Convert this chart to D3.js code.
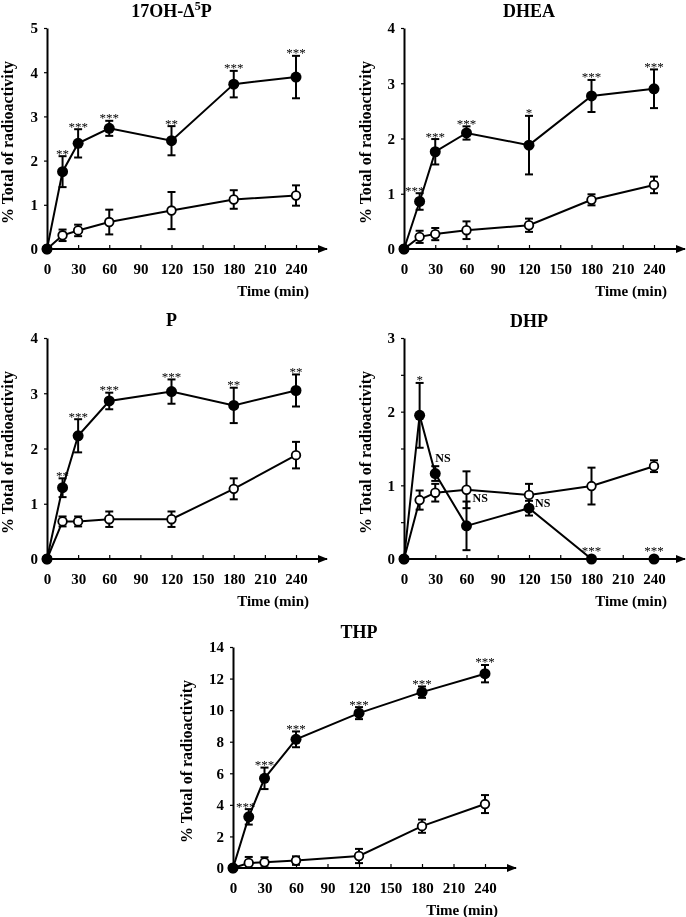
<!DOCTYPE html>
<html>
<head>
<meta charset="utf-8">
<script src="https://cdn.jsdelivr.net/npm/d3@7"></script>
<style>
  html, body { margin: 0; padding: 0; background: #fff; }
  svg { display: block; filter: grayscale(100%); }
  text { font-family: "Liberation Serif", "Times New Roman", serif; fill: #000; }
</style>
</head>
<body>
<svg id="chart" width="686" height="917"></svg>
<script>
// ---------- DATA ----------
const times = [0, 15, 30, 60, 120, 180, 240];
const xTicks = [0, 30, 60, 90, 120, 150, 180, 210, 240];

// 17OH-Δ5P
const oh17Filled    = [0, 1.75, 2.39, 2.73, 2.45, 3.73, 3.89];
const oh17FilledErr = [0, 0.35, 0.32, 0.17, 0.33, 0.30, 0.48];
const oh17Open      = [0, 0.31, 0.42, 0.61, 0.87, 1.12, 1.21];
const oh17OpenErr   = [0, 0.13, 0.13, 0.28, 0.42, 0.21, 0.23];
const oh17Sig       = ["", "**", "***", "***", "**", "***", "***"];

// DHEA
const dheaFilled    = [0, 0.86, 1.76, 2.10, 1.88, 2.77, 2.90];
const dheaFilledErr = [0, 0.15, 0.23, 0.12, 0.53, 0.29, 0.35];
const dheaOpen      = [0, 0.22, 0.27, 0.34, 0.43, 0.89, 1.16];
const dheaOpenErr   = [0, 0.11, 0.11, 0.16, 0.12, 0.10, 0.15];
const dheaSig       = ["", "***", "***", "***", "*", "***", "***"];

// P
const pFilled    = [0, 1.29, 2.23, 2.86, 3.03, 2.78, 3.05];
const pFilledErr = [0, 0.17, 0.30, 0.15, 0.22, 0.32, 0.29];
const pOpen      = [0, 0.68, 0.68, 0.72, 0.72, 1.27, 1.88];
const pOpenErr   = [0, 0.09, 0.09, 0.14, 0.14, 0.19, 0.24];
const pSig       = ["", "**", "***", "***", "***", "**", "**"];

// DHP
const dhpFilled    = [0, 1.95, 1.16, 0.45, 0.69, 0, 0];
const dhpFilledErr = [0, 0.44, 0.10, 0.33, 0.10, 0, 0];
const dhpOpen      = [0, 0.80, 0.90, 0.94, 0.87, 0.99, 1.26];
const dhpOpenErr   = [0, 0.13, 0.12, 0.25, 0.15, 0.25, 0.08];
const dhpSig       = ["", "*", "NS", "NS", "NS", "***", "***"];

// THP
const thpFilled    = [0, 3.24, 5.68, 8.15, 9.81, 11.14, 12.31];
const thpFilledErr = [0, 0.49, 0.68, 0.50, 0.38, 0.36, 0.55];
const thpOpen      = [0, 0.32, 0.36, 0.47, 0.76, 2.65, 4.05];
const thpOpenErr   = [0, 0.38, 0.32, 0.27, 0.45, 0.42, 0.57];
const thpSig       = ["", "***", "***", "***", "***", "***", "***"];

const yLabelText = "% Total of radioactivity";
const xLabelText = "Time (min)";

// ---------- LAYOUT ----------
const panels = [
  { title: ["17OH-\u0394", "5", "P"], filled: oh17Filled, filledErr: oh17FilledErr, open: oh17Open, openErr: oh17OpenErr, sig: oh17Sig,
    yMax: 5, tickStep: 1, left: 47, right: 296, top: 28, bottom: 249, titleY: 17, labOff: 34, firstDx: 0 },
  { title: ["DHEA"], filled: dheaFilled, filledErr: dheaFilledErr, open: dheaOpen, openErr: dheaOpenErr, sig: dheaSig,
    yMax: 4, tickStep: 1, left: 404, right: 654, top: 28, bottom: 249, titleY: 17, labOff: 33, firstDx: -5 },
  { title: ["P"], filled: pFilled, filledErr: pFilledErr, open: pOpen, openErr: pOpenErr, sig: pSig,
    yMax: 4, tickStep: 1, left: 47, right: 296, top: 338, bottom: 559, titleY: 326, labOff: 34, firstDx: 0 },
  { title: ["DHP"], filled: dhpFilled, filledErr: dhpFilledErr, open: dhpOpen, openErr: dhpOpenErr, sig: dhpSig,
    yMax: 3, tickStep: 0.5, left: 404, right: 654, top: 338, bottom: 559, titleY: 327, labOff: 33, firstDx: 0 },
  { title: ["THP"], filled: thpFilled, filledErr: thpFilledErr, open: thpOpen, openErr: thpOpenErr, sig: thpSig,
    yMax: 14, tickStep: 2, left: 233, right: 485, top: 647, bottom: 868, titleY: 638, labOff: 41, firstDx: -3 }
];

const svg = d3.select("#chart");
svg.append("rect").attr("width", 686).attr("height", 917).attr("fill", "#fff");

svg.append("defs").append("marker")
  .attr("id", "arrow").attr("viewBox", "0 0 10 8")
  .attr("refX", 9).attr("refY", 4)
  .attr("markerWidth", 10).attr("markerHeight", 8)
  .attr("markerUnits", "userSpaceOnUse").attr("orient", "auto")
  .append("path").attr("d", "M0,0 L10,4 L0,8 Z").attr("fill", "#000");

panels.forEach(p => {
  const g = svg.append("g");
  const x = d3.scaleLinear().domain([0, 240]).range([p.left, p.right]);
  const y = d3.scaleLinear().domain([0, p.yMax]).range([p.bottom, p.top]);

  // Title
  const t = g.append("text")
    .attr("x", (p.left + p.right) / 2).attr("y", p.titleY)
    .attr("text-anchor", "middle").attr("font-weight", "bold").attr("font-size", 18);
  if (p.title.length === 3) {
    t.append("tspan").text(p.title[0]);
    t.append("tspan").attr("font-size", 12).attr("dy", -7).text(p.title[1]);
    t.append("tspan").attr("dy", 7).text(p.title[2]);
  } else {
    t.text(p.title[0]);
  }

  // Y axis
  const yTickVals = d3.range(0, p.yMax + 1e-9, p.tickStep);
  const yAxis = d3.axisLeft(y).tickValues(yTickVals)
    .tickFormat(d => (p.tickStep === 0.5 && !Number.isInteger(d)) ? "" : d3.format("d")(d))
    .tickSize(3).tickSizeOuter(0).tickPadding(6);
  const gy = g.append("g").attr("transform", `translate(${p.left},0)`).call(yAxis);
  gy.select(".domain").attr("stroke", "#000").attr("stroke-width", 2);
  gy.selectAll(".tick line").attr("stroke", "#000").attr("stroke-width", 1.2);
  gy.selectAll(".tick text").attr("font-family", "Liberation Serif, Times New Roman, serif")
    .attr("font-weight", "bold").attr("font-size", 15).attr("fill", "#000");

  // X axis
  const xAxis = d3.axisBottom(x).tickValues(xTicks).tickSize(-4).tickSizeOuter(0).tickPadding(14);
  const gx = g.append("g").attr("transform", `translate(0,${p.bottom})`).call(xAxis);
  gx.select(".domain").remove();
  gx.selectAll(".tick line").attr("stroke", "#000").attr("stroke-width", 1.2);
  gx.selectAll(".tick text").attr("font-family", "Liberation Serif, Times New Roman, serif")
    .attr("font-weight", "bold").attr("font-size", 15).attr("fill", "#000");
  g.append("line")
    .attr("x1", x(0)).attr("x2", x(240) + 31)
    .attr("y1", p.bottom).attr("y2", p.bottom)
    .attr("stroke", "#000").attr("stroke-width", 2)
    .attr("marker-end", "url(#arrow)");

  // Axis labels
  g.append("text")
    .attr("transform", `translate(${p.left - p.labOff},${(p.top + p.bottom) / 2 + 4}) rotate(-90)`)
    .attr("text-anchor", "middle").attr("font-weight", "bold").attr("font-size", 16)
    .text(yLabelText);
  g.append("text")
    .attr("x", x(240) + 13).attr("y", p.bottom + 47)
    .attr("text-anchor", "end").attr("font-weight", "bold").attr("font-size", 15)
    .text(xLabelText);

  const line = d3.line().x((d, i) => x(times[i])).y(d => y(d));

  // Lines
  g.append("path").datum(p.open).attr("d", line)
    .attr("fill", "none").attr("stroke", "#000").attr("stroke-width", 2);
  g.append("path").datum(p.filled).attr("d", line)
    .attr("fill", "none").attr("stroke", "#000").attr("stroke-width", 2);

  // Error bars
  const drawErr = (vals, errs) => {
    vals.forEach((v, i) => {
      const e = errs[i];
      if (!e) return;
      const cx = x(times[i]);
      const y1 = y(v + e), y2 = y(Math.max(v - e, 0));
      g.append("line").attr("x1", cx).attr("x2", cx).attr("y1", y1).attr("y2", y2)
        .attr("stroke", "#000").attr("stroke-width", 2);
      [y1, y2].forEach(yy => g.append("line")
        .attr("x1", cx - 4).attr("x2", cx + 4).attr("y1", yy).attr("y2", yy)
        .attr("stroke", "#000").attr("stroke-width", 2));
    });
  };
  drawErr(p.open, p.openErr);
  drawErr(p.filled, p.filledErr);

  // Markers
  g.selectAll(".open").data(p.open).enter().append("circle")
    .attr("cx", (d, i) => x(times[i])).attr("cy", d => y(d)).attr("r", 4.3)
    .attr("fill", "#fff").attr("stroke", "#000").attr("stroke-width", 1.8);
  g.selectAll(".filled").data(p.filled).enter().append("circle")
    .attr("cx", (d, i) => x(times[i])).attr("cy", d => y(d)).attr("r", 5.5)
    .attr("fill", "#000");

  // Significance labels
  p.sig.forEach((s, i) => {
    if (!s) return;
    const cx = x(times[i]);
    const capY = y(p.filled[i] + p.filledErr[i]);
    const ptTop = y(p.filled[i]) - 5.5;
    if (s === "NS") {
      if (p.filled[i] < p.open[i]) {
        g.append("text").attr("x", cx + 6).attr("y", y(p.open[i]) + 12)
          .attr("font-weight", "bold").attr("font-size", 12).text(s);
      } else {
        g.append("text").attr("x", cx).attr("y", capY - 4)
          .attr("font-weight", "bold").attr("font-size", 12).text(s);
      }
    } else {
      g.append("text").attr("x", cx + (i === 1 ? p.firstDx : 0)).attr("y", Math.min(capY, ptTop) + 1.5)
        .attr("text-anchor", "middle").attr("font-size", 13).text(s);
    }
  });
});
</script>
</body>
</html>
